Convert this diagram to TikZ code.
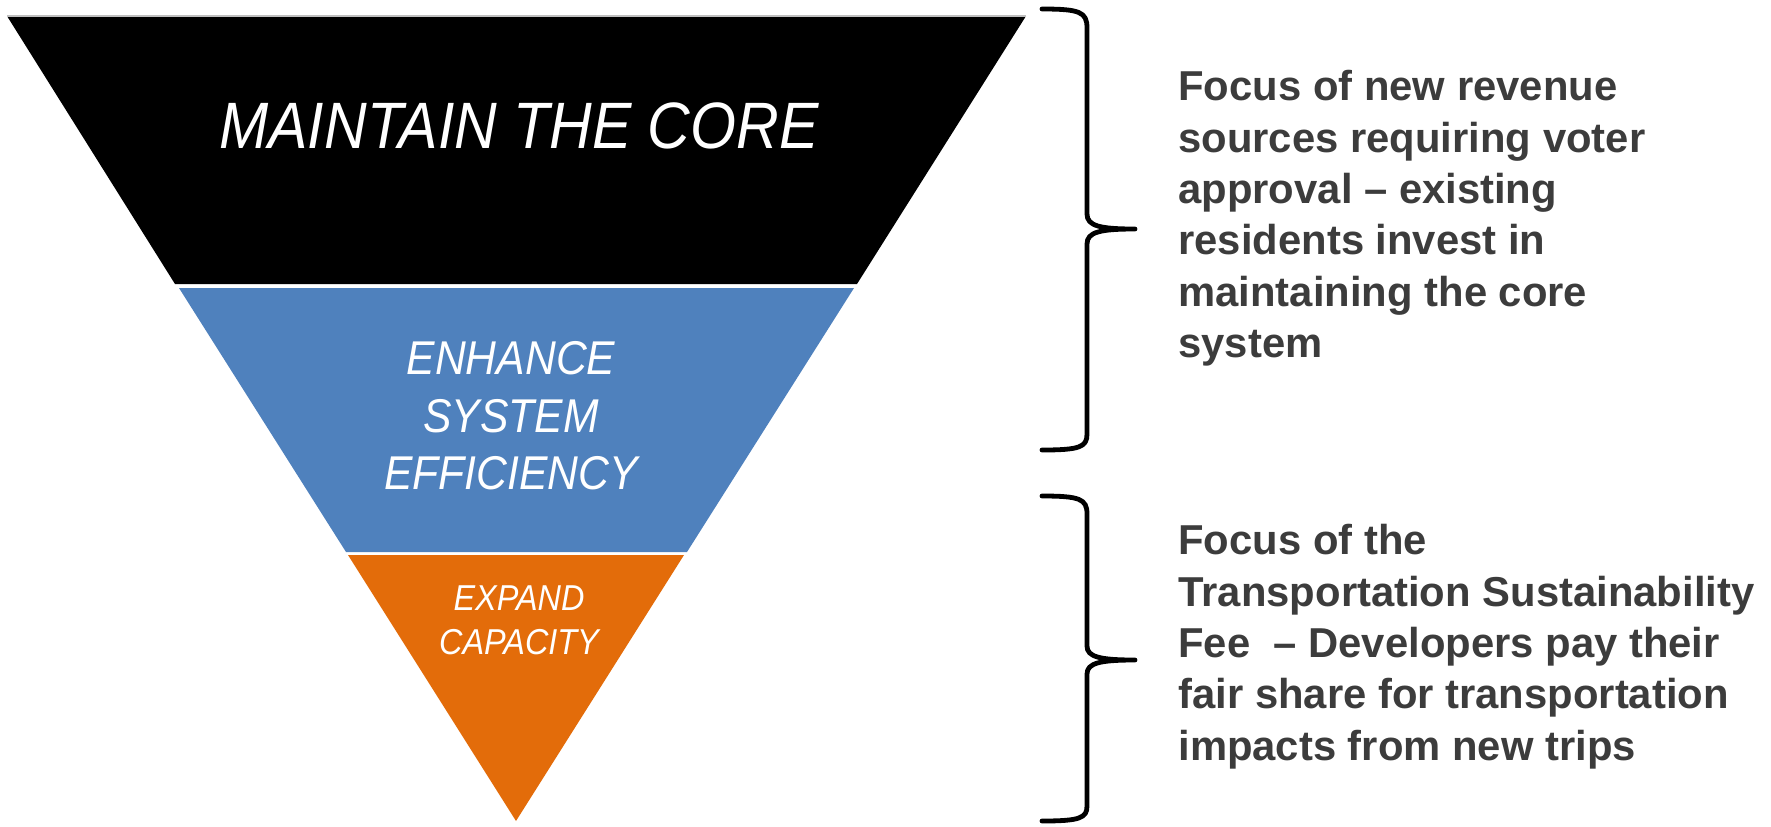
\documentclass[tikz,border=0pt]{standalone}
\usepackage{fontspec}
\setmainfont{Liberation Sans}
\newfontfamily\trifont[FakeStretch=0.9]{Liberation Sans}
\definecolor{blueband}{HTML}{4F81BD}
\definecolor{orangeband}{HTML}{E36C0A}
\definecolor{textgray}{HTML}{3C3C3C}
\tikzset{
  bandlabel/.style={text=white, inner sep=0pt, align=center},
  sidetext/.style={text=textgray, inner sep=0pt, align=left, anchor=north west,
    font=\bfseries\fontsize{20.9}{25.7}\selectfont},
  bracestyle/.style={draw=black, line width=2.4pt, line cap=round, line join=round}
}
\begin{document}
\begin{tikzpicture}[x=0.5pt,y=-0.5pt]
\useasboundingbox (0,0) rectangle (1771,826);
% bands
\fill[black] (7,16) -- (1026,16) -- (857,284) -- (175,284) -- cycle;
\draw[gray!50, line width=0.6pt] (7,16) -- (1026,16);
\fill[blueband] (179,288) -- (854,288) -- (687,552) -- (346,552) -- cycle;
\fill[orangeband] (348,555) -- (684,555) -- (516,821) -- cycle;
% band labels
\node[bandlabel, font=\trifont\itshape\fontsize{32.8}{36}\selectfont] (core) at (519,126) {MAINTAIN THE CORE};
\node[bandlabel, font=\trifont\itshape\fontsize{23.7}{28.7}\selectfont] (eff) at (511,416) {ENHANCE\\SYSTEM\\EFFICIENCY};
\node[bandlabel, font=\trifont\itshape\fontsize{18}{22}\selectfont] (cap) at (519,620) {EXPAND\\CAPACITY};
% braces
\draw[bracestyle] (1042,9) .. controls (1080,9) and (1087,12) .. (1087,28) -- (1087,214)
  .. controls (1087,226) and (1100,229) .. (1135,229)
  .. controls (1100,229) and (1087,232) .. (1087,244) -- (1087,434)
  .. controls (1087,447) and (1080,450) .. (1042,450);
\draw[bracestyle] (1042,496) .. controls (1080,496) and (1087,499) .. (1087,514) -- (1087,646)
  .. controls (1087,657) and (1100,660) .. (1135,660)
  .. controls (1100,660) and (1087,663) .. (1087,674) -- (1087,806)
  .. controls (1087,818) and (1080,821) .. (1042,821);
% side texts
\node[sidetext] (top) at (1178,70) {Focus of new revenue\\sources requiring voter\\approval – existing\\residents invest in\\maintaining the core\\system};
\node[sidetext] (bottom) at (1178,524) {Focus of the\\Transportation Sustainability\\Fee\ \ – Developers pay their\\fair share for transportation\\impacts from new trips};
\end{tikzpicture}
\end{document}
